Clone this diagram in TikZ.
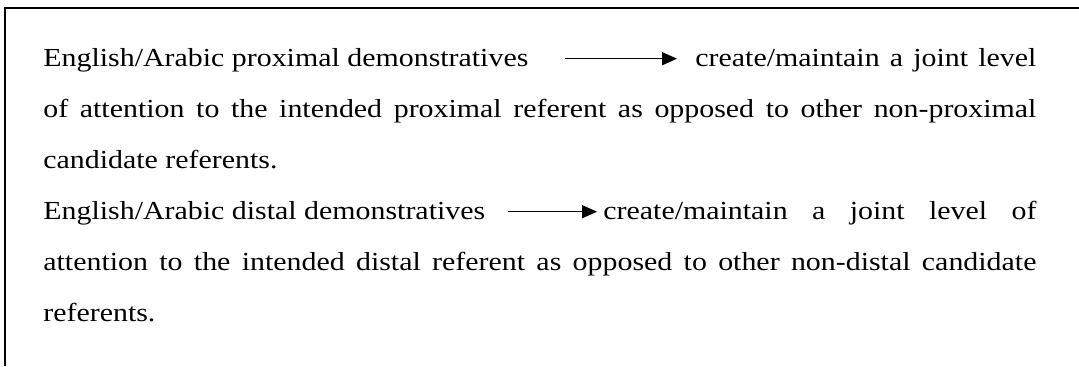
\documentclass[tikz,border=0pt]{standalone}
\usepackage{fontspec}
\setmainfont{Liberation Serif}[FakeStretch=1.15]
\usetikzlibrary{arrows.meta}

\begin{document}
\begin{tikzpicture}[x=0.5pt,y=-0.5pt,
	txt/.style={anchor=base west,inner sep=0pt,font=\fontsize{13pt}{15pt}\selectfont},
	arr/.style={line width=0.75pt,-{Triangle[length=7.5pt,width=6.5pt]}}]
	\useasboundingbox (0,0) rectangle (1079,366);
	\draw[line width=0.75pt] (1079,8) -| (5,366);							% рамка
	\node[txt] (prox) at (43,66.7) {English/Arabic proximal demonstratives};
	\node[txt] (proxres) at (695,66.7) {\makebox[170.5pt][s]{create/maintain a joint level}};
	\node[txt] (proxtwo) at (43,117.7)
		{\makebox[496.5pt][s]{of attention to the intended proximal referent as opposed to other non-proximal}};
	\node[txt] (proxthree) at (43,168.7) {candidate referents.};
	\node[txt] (dist) at (43,219.7) {English/Arabic distal demonstratives};
	\node[txt] (distres) at (603,219.7) {\makebox[216.5pt][s]{create/maintain a joint level of}};
	\node[txt] (disttwo) at (43,270.7)
		{\makebox[496.5pt][s]{attention to the intended distal referent as opposed to other non-distal candidate}};
	\node[txt] (distthree) at (43,321.7) {referents.};
	\draw[arr,shorten <=18pt,shorten >=9pt]
		([yshift=4pt]prox.base east) -- ([yshift=4pt]proxres.base west);		% стрелка 1
	\draw[arr,shorten <=11pt,shorten >=3pt]
		([yshift=4pt]dist.base east) -- ([yshift=4pt]distres.base west);		% стрелка 2
\end{tikzpicture}
\end{document}
